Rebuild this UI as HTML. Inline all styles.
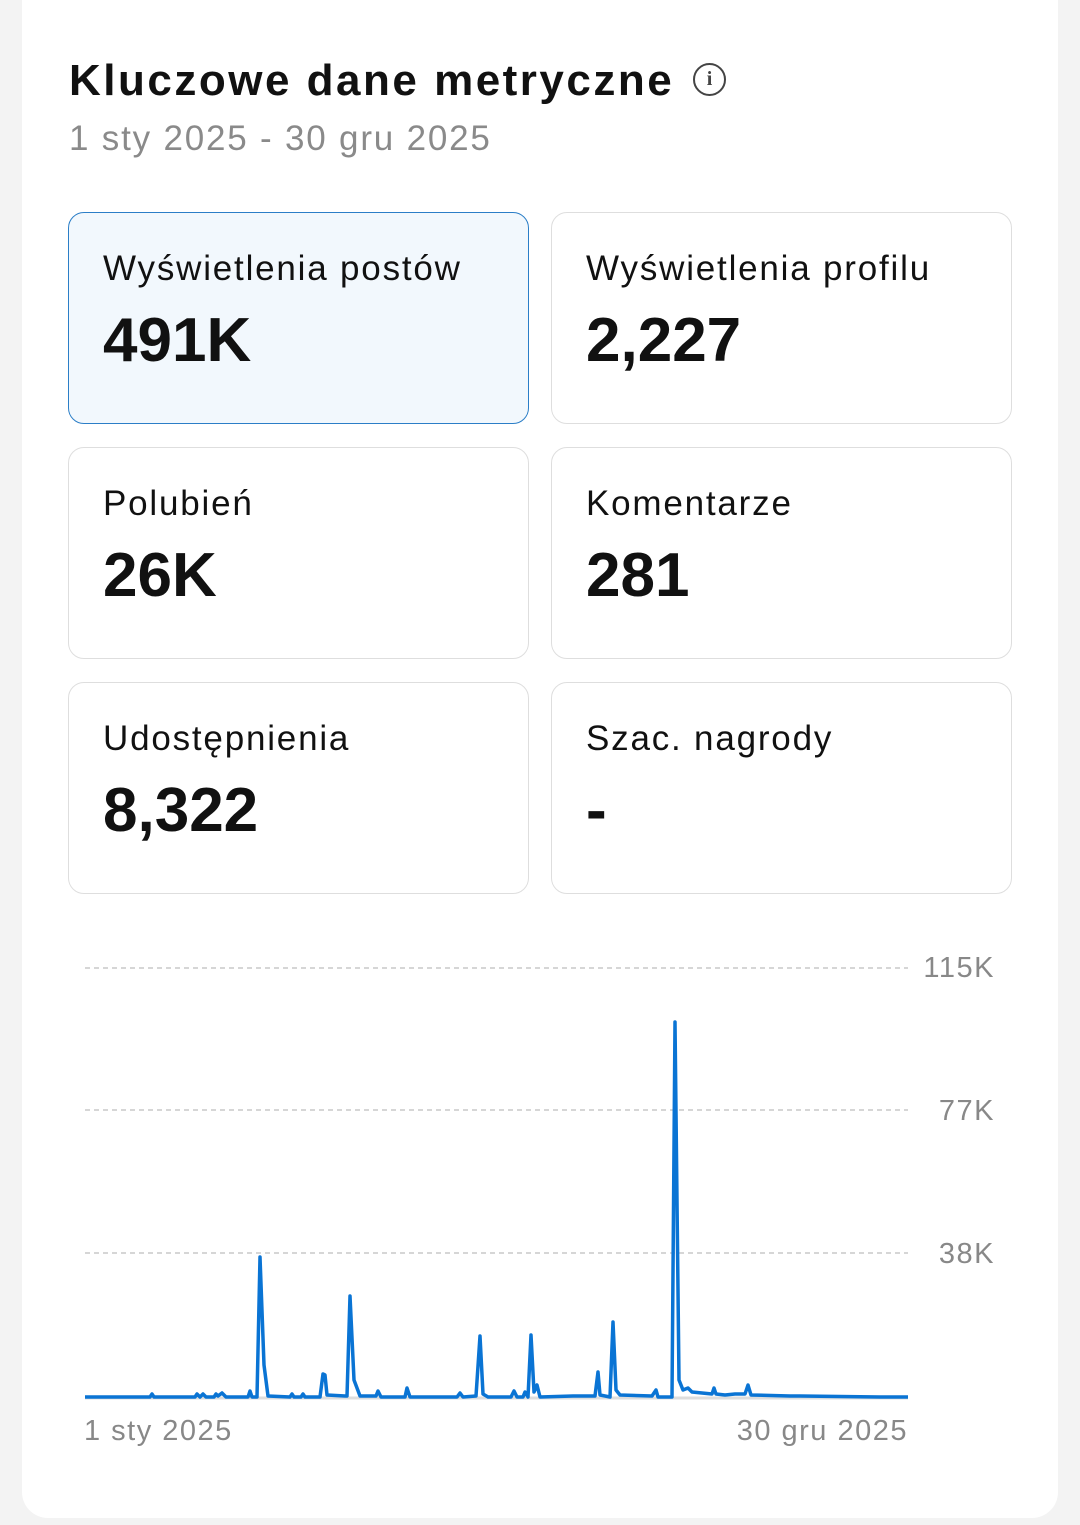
<!DOCTYPE html>
<html><head><meta charset="utf-8"><style>
body{margin:0;width:1080px;height:1525px;background:#f3f3f3;font-family:"Liberation Sans",sans-serif;position:relative;overflow:hidden}
.card{position:absolute;left:22px;top:-30px;width:1036px;height:1548px;background:#fff;border-radius:26px}
.t{position:absolute;left:69px;top:56px;font-size:44px;font-weight:bold;color:#111;letter-spacing:2.5px}
.d{position:absolute;left:69px;top:119px;font-size:35px;color:#8a8a8a;letter-spacing:1.8px}
.info{position:absolute;left:693px;top:63px;width:29px;height:29px;border:2.5px solid #444;border-radius:50%;font:bold 20px "Liberation Serif",serif;color:#444;text-align:center;line-height:29px}
.m{position:absolute;width:461px;height:212px;border:1.5px solid #dedede;border-radius:16px;box-sizing:border-box}
.m .l{position:absolute;left:34px;top:36px;font-size:35px;color:#111;letter-spacing:1.8px}
.m .v{position:absolute;left:34px;top:92px;font-size:62px;font-weight:bold;color:#111}
.sel{background:#f2f8fd;border-color:#2b7ec7}
.ax{position:absolute;font-size:29px;color:#888;letter-spacing:1.5px}
</style></head><body>
<div class="card"></div>
<div class="t">Kluczowe dane metryczne</div>
<div class="info">i</div>
<div class="d">1 sty 2025 - 30 gru 2025</div>
<div class="m sel" style="left:68px;top:212px"><div class="l">Wyświetlenia postów</div><div class="v">491K</div></div>
<div class="m" style="left:551px;top:212px"><div class="l">Wyświetlenia profilu</div><div class="v">2,227</div></div>
<div class="m" style="left:68px;top:447px"><div class="l">Polubień</div><div class="v">26K</div></div>
<div class="m" style="left:551px;top:447px"><div class="l">Komentarze</div><div class="v">281</div></div>
<div class="m" style="left:68px;top:682px"><div class="l">Udostępnienia</div><div class="v">8,322</div></div>
<div class="m" style="left:551px;top:682px"><div class="l">Szac. nagrody</div><div class="v">-</div></div>
<svg style="position:absolute;left:0;top:0" width="1080" height="1525">
<g stroke="#c8c8c8" stroke-width="1.5" stroke-dasharray="5,4">
<line x1="85" y1="968" x2="908" y2="968"/><line x1="85" y1="1110" x2="908" y2="1110"/><line x1="85" y1="1253" x2="908" y2="1253"/></g>
<line x1="85" y1="1398" x2="908" y2="1398" stroke="#ddd" stroke-width="3"/>
<polyline fill="none" stroke="#0a74d4" stroke-width="3.5" stroke-linejoin="round" points="85,1397 150,1397 152,1394 154,1397 195,1397 197,1394 200,1397 203,1394 206,1397 214,1397 216,1394 218,1396 222,1393 226,1397 248,1397 250,1391 252,1397 257,1397 260,1257 264,1365 268,1396 290,1397 292,1394 294,1397 301,1397 303,1394 305,1397 320,1397 323,1374 325,1375 327,1395 345,1396 347,1396 350,1296 354,1380 360,1396 376,1396 378,1391 381,1397 405,1397 407,1388 410,1397 457,1397 460,1393 463,1397 476,1396 480,1336 483,1394 488,1397 511,1397 514,1391 517,1397 523,1397 525,1392 528,1397 531,1335 534,1392 537,1385 540,1397 573,1396 595,1396 598,1372 600,1395 610,1397 613,1322 616,1390 620,1395 652,1396 656,1390 658,1397 672,1397 675,1022 679,1380 683,1390 688,1388 692,1392 712,1394 714,1388 716,1394 725,1395 735,1394 745,1394 748,1385 751,1395 790,1396 800,1396 880,1397 908,1397"/>
</svg>
<div class="ax" style="right:85px;top:952px">115K</div>
<div class="ax" style="right:85px;top:1095px">77K</div>
<div class="ax" style="right:85px;top:1238px">38K</div>
<div class="ax" style="left:84px;top:1415px">1 sty 2025</div>
<div class="ax" style="right:172px;top:1415px">30 gru 2025</div>
</body></html>
